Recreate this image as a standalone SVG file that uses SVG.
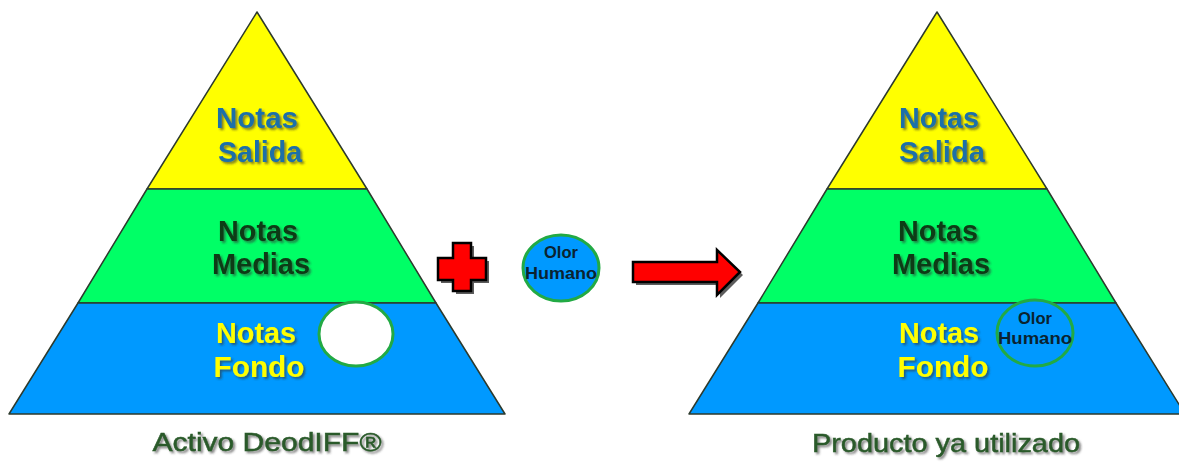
<svg xmlns="http://www.w3.org/2000/svg" width="1179" height="462" viewBox="0 0 1179 462">
<defs>
<filter id="sh" x="-20%" y="-20%" width="140%" height="140%">
<feDropShadow dx="2" dy="2" stdDeviation="1" flood-color="#333" flood-opacity="0.6"/>
</filter>
<style>
.tier{stroke:#2d3a2d;stroke-width:1.5;stroke-linejoin:round}
.top{fill:#ffff00}.mid{fill:#00ff66}.bot{fill:#0099ff}
.lbl{font-family:"Liberation Sans",Arial,sans-serif;font-weight:bold;font-size:30px;text-anchor:middle;filter:url(#sh)}
.sal{fill:#1f6fa8}.med{fill:#0d3a14}.fon{fill:#ffff00}
.small{font-family:"Liberation Sans",Arial,sans-serif;font-weight:bold;font-size:16.5px;text-anchor:middle;fill:#0a2330}
.cap{font-family:"Liberation Sans",Arial,sans-serif;font-size:26px;text-anchor:middle;fill:#2a5a2a;stroke:#2a5a2a;stroke-width:0.5;filter:url(#sh)}
.ring{stroke:#22aa44;stroke-width:3}
.sym{fill:#ff0000;stroke:#000;stroke-width:2.5;stroke-linejoin:miter}
.symsh{fill:#333;opacity:0.8}
</style>
</defs>
<rect width="1179" height="462" fill="#ffffff"/>

<g id="pyramid-left">
<polygon class="tier top" points="257,12 367,189 147,189"/>
<polygon class="tier mid" points="147,189 367,189 436,303 78,303"/>
<polygon class="tier bot" points="78,303 436,303 505,414 9,414"/>
<text class="lbl sal" x="257" y="128" textLength="82" lengthAdjust="spacingAndGlyphs">Notas</text>
<text class="lbl sal" x="260" y="162" textLength="84" lengthAdjust="spacingAndGlyphs">Salida</text>
<text class="lbl med" x="258" y="241" textLength="80" lengthAdjust="spacingAndGlyphs">Notas</text>
<text class="lbl med" x="261" y="274" textLength="98" lengthAdjust="spacingAndGlyphs">Medias</text>
<text class="lbl fon" x="256" y="343" textLength="80" lengthAdjust="spacingAndGlyphs">Notas</text>
<text class="lbl fon" x="259" y="377" textLength="91" lengthAdjust="spacingAndGlyphs">Fondo</text>
<ellipse class="ring" cx="356" cy="334" rx="37" ry="32" fill="#ffffff"/>
<text class="cap" x="267" y="451" textLength="229" lengthAdjust="spacingAndGlyphs">Activo DeodIFF®</text>
</g>

<g id="plus">
<path class="symsh" d="M456,246 H474 V261 H489 V283 H474 V294 H456 V283 H441 V261 H456 Z"/>
<path class="sym" d="M453,243 H471 V258 H486 V280 H471 V291 H453 V280 H438 V258 H453 Z"/>
</g>

<g id="olor-humano">
<ellipse class="ring" cx="561" cy="268" rx="38" ry="33" fill="#0099ff"/>
<text class="small" x="561" y="258">Olor</text>
<text class="small" x="561" y="279" textLength="72" lengthAdjust="spacingAndGlyphs">Humano</text>
</g>

<g id="connectors">
<path class="symsh" d="M636,265 H720 V253 L743,275 L720,298 V285 H636 Z"/>
<path class="sym" d="M633,262 H717 V250 L740,272 L717,295 V282 H633 Z"/>
</g>

<g id="pyramid-right">
<polygon class="tier top" points="937,12 1047,189 827,189"/>
<polygon class="tier mid" points="827,189 1047,189 1116,303 758,303"/>
<polygon class="tier bot" points="758,303 1116,303 1185,414 689,414"/>
<text class="lbl sal" x="939" y="128" textLength="80" lengthAdjust="spacingAndGlyphs">Notas</text>
<text class="lbl sal" x="942" y="162" textLength="86" lengthAdjust="spacingAndGlyphs">Salida</text>
<text class="lbl med" x="938" y="241" textLength="80" lengthAdjust="spacingAndGlyphs">Notas</text>
<text class="lbl med" x="941" y="274" textLength="98" lengthAdjust="spacingAndGlyphs">Medias</text>
<text class="lbl fon" x="939" y="343" textLength="80" lengthAdjust="spacingAndGlyphs">Notas</text>
<text class="lbl fon" x="943" y="377" textLength="91" lengthAdjust="spacingAndGlyphs">Fondo</text>
<ellipse class="ring" cx="1035" cy="333" rx="38" ry="33" fill="#0099ff"/>
<text class="small" x="1035" y="324">Olor</text>
<text class="small" x="1035" y="344" textLength="74" lengthAdjust="spacingAndGlyphs">Humano</text>
<text class="cap" x="946" y="452" textLength="268" lengthAdjust="spacingAndGlyphs">Producto ya utilizado</text>
</g>
</svg>
